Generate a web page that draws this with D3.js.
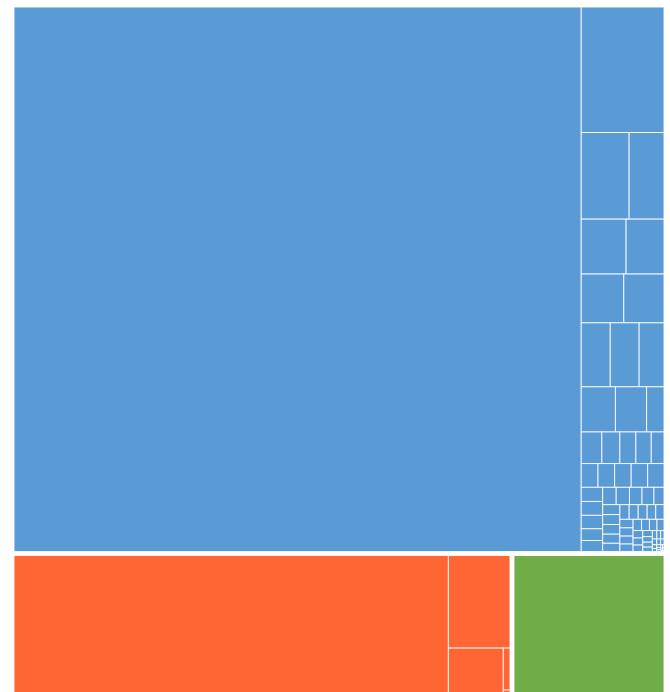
<!DOCTYPE html>
<meta charset="utf-8">
<style>
  body { margin: 0; background: #fff; }
  .leaf { stroke: #fff; stroke-width: 1px; stroke-opacity: 0.85; }
</style>
<html>
<body>
<script src="https://d3js.org/d3.v7.min.js"></script>
<script>
  var width = 670;
  var height = 692;
  var margin = {top: 7, right: 6, bottom: -1, left: 14};

  // group names and colours
  var groups = ["A", "B", "C"];
  var groupColors = ["#5b9bd5", "#ff6633", "#70ad47"];

  // leaf values per group
  var blueValues = [
    306000,
    10292,
    4108, 2995,
    2440, 2062,
    2056, 1944,
    1840, 1830, 1575,
    1530, 1395, 779,
    645, 563, 501, 482, 398,
    395, 392, 390, 388, 385,
    300, 295, 285, 249, 234,
    232, 228, 215, 205, 172,
    170, 168, 165, 155, 140,
    135, 132, 130, 125, 120,
    112, 108, 104, 98, 94, 88, 84, 78, 72, 68, 62, 58, 52, 47, 42,
    37, 32, 28, 25, 22, 19, 16, 13, 11, 9, 7, 6, 5, 4, 3, 2, 1, 1
  ];
  var orangeValues = [60560, 5785, 2500, 284, 20];
  var greenValues = [21300];

  var allValues = [blueValues, orangeValues, greenValues];

  var data = {
    name: "root",
    children: groups.map(function(g, i) {
      return {
        name: g,
        color: groupColors[i],
        children: allValues[i].map(function(v, j) { return {name: g + (j + 1), value: v}; })
      };
    })
  };

  var root = d3.hierarchy(data)
    .sum(function(d) { return d.value || 0; })
    .sort(function(a, b) { return b.value - a.value; });

  d3.treemap()
    .tile(d3.treemapSquarify.ratio(1.68))
    .size([width - margin.left - margin.right, height - margin.top - margin.bottom])
    .paddingInner(function(node) { return node.depth === 0 ? 4 : 0; })
    .round(false)(root);

  var svg = d3.select("body")
    .append("svg")
    .attr("width", width)
    .attr("height", height);

  var g = svg.append("g")
    .attr("transform", "translate(" + margin.left + "," + margin.top + ")");

  g.selectAll("rect.leaf")
    .data(root.leaves())
    .enter().append("rect")
    .attr("class", "leaf")
    .attr("x", function(d) { return d.x0; })
    .attr("y", function(d) { return d.y0; })
    .attr("width", function(d) { return Math.max(0, d.x1 - d.x0); })
    .attr("height", function(d) { return Math.max(0, d.y1 - d.y0); })
    .attr("fill", function(d) { return d.parent.data.color; });
</script>
</body>
</html>
